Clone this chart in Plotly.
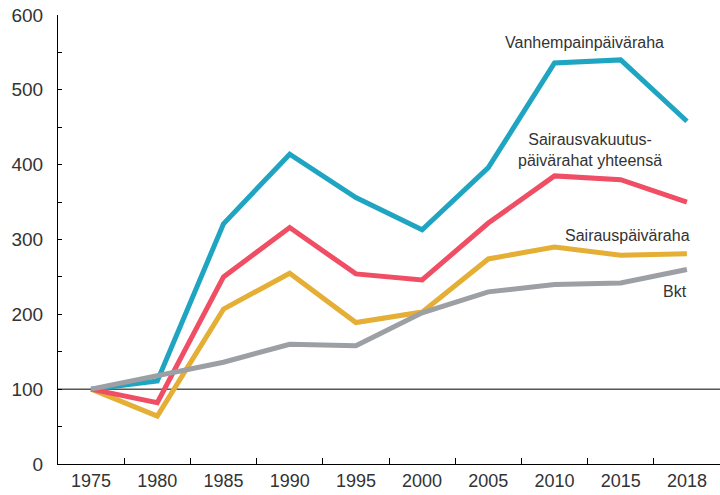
import plotly.graph_objects as go

years = ["1975", "1980", "1985", "1990", "1995", "2000", "2005", "2010", "2015", "2018"]
vanhempainpaivaraha = [100, 111, 321, 414, 356, 313, 396, 536, 540, 458]
sairausvakuutus_yht = [100, 82, 250, 316, 254, 246, 322, 385, 380, 350]
sairauspaivaraha = [100, 64, 207, 255, 189, 203, 274, 290, 279, 281]
bkt = [100, 118, 136, 160, 158, 202, 230, 240, 242, 260]

y_ticks = [0, 100, 200, 300, 400, 500, 600]

FONT = "Liberation Sans"
TXT = "#333333"

series = [
    ("Vanhempainpäiväraha", vanhempainpaivaraha, "#1FA5C2"),
    ("Sairauspäiväraha", sairauspaivaraha, "#E5AE35"),
    ("Sairausvakuutuspäivärahat yhteensä", sairausvakuutus_yht, "#EF4E64"),
    ("Bkt", bkt, "#9C9FA3"),
]

fig = go.Figure()
for name, vals, col in series:
    fig.add_trace(go.Scatter(x=years, y=vals, mode="lines", name=name,
                             line=dict(color=col, width=5), showlegend=False))

fig.add_shape(type="line", xref="paper", x0=0, x1=1, yref="y", y0=100, y1=100,
              line=dict(color="black", width=1), layer="below")

# label positions in category-index units
ann = [
    ("Vanhempainpäiväraha", 7.46, 563),
    ("Sairausvakuutus-<br>päivärahat yhteensä", 7.54, 419),
    ("Sairauspäiväraha", 8.1, 306),
    ("Bkt", 8.82, 230),
]
for text, xv, yv in ann:
    fig.add_annotation(x=xv, y=yv, xref="x", yref="y", text=text, showarrow=False,
                       font=dict(family=FONT, size=16, color=TXT), align="center")

fig.update_layout(
    width=720, height=495,
    margin=dict(l=58, r=0, t=15, b=31),
    plot_bgcolor="white", paper_bgcolor="white",
    font=dict(family=FONT, size=18, color=TXT),
    xaxis=dict(type="category", tickson="boundaries", ticks="inside", ticklen=6,
               tickcolor="black", showline=True, linecolor="black", linewidth=1,
               showgrid=False, zeroline=False, range=[-0.5, 9.5],
               tickfont=dict(family=FONT, size=18, color=TXT), automargin=False),
    yaxis=dict(range=[0, 600], tickvals=y_ticks, ticks="inside", ticklen=4,
               tickcolor="black", showline=True, linecolor="black", linewidth=1,
               showgrid=False, zeroline=False, ticklabelstandoff=10,
               minor=dict(dtick=50, ticks="inside", ticklen=4, tickcolor="black"),
               tickfont=dict(family=FONT, size=19, color=TXT), automargin=False),
)

fig.write_html("out.html", config={"displayModeBar": False},
               post_script="document.body.style.margin='0';")
